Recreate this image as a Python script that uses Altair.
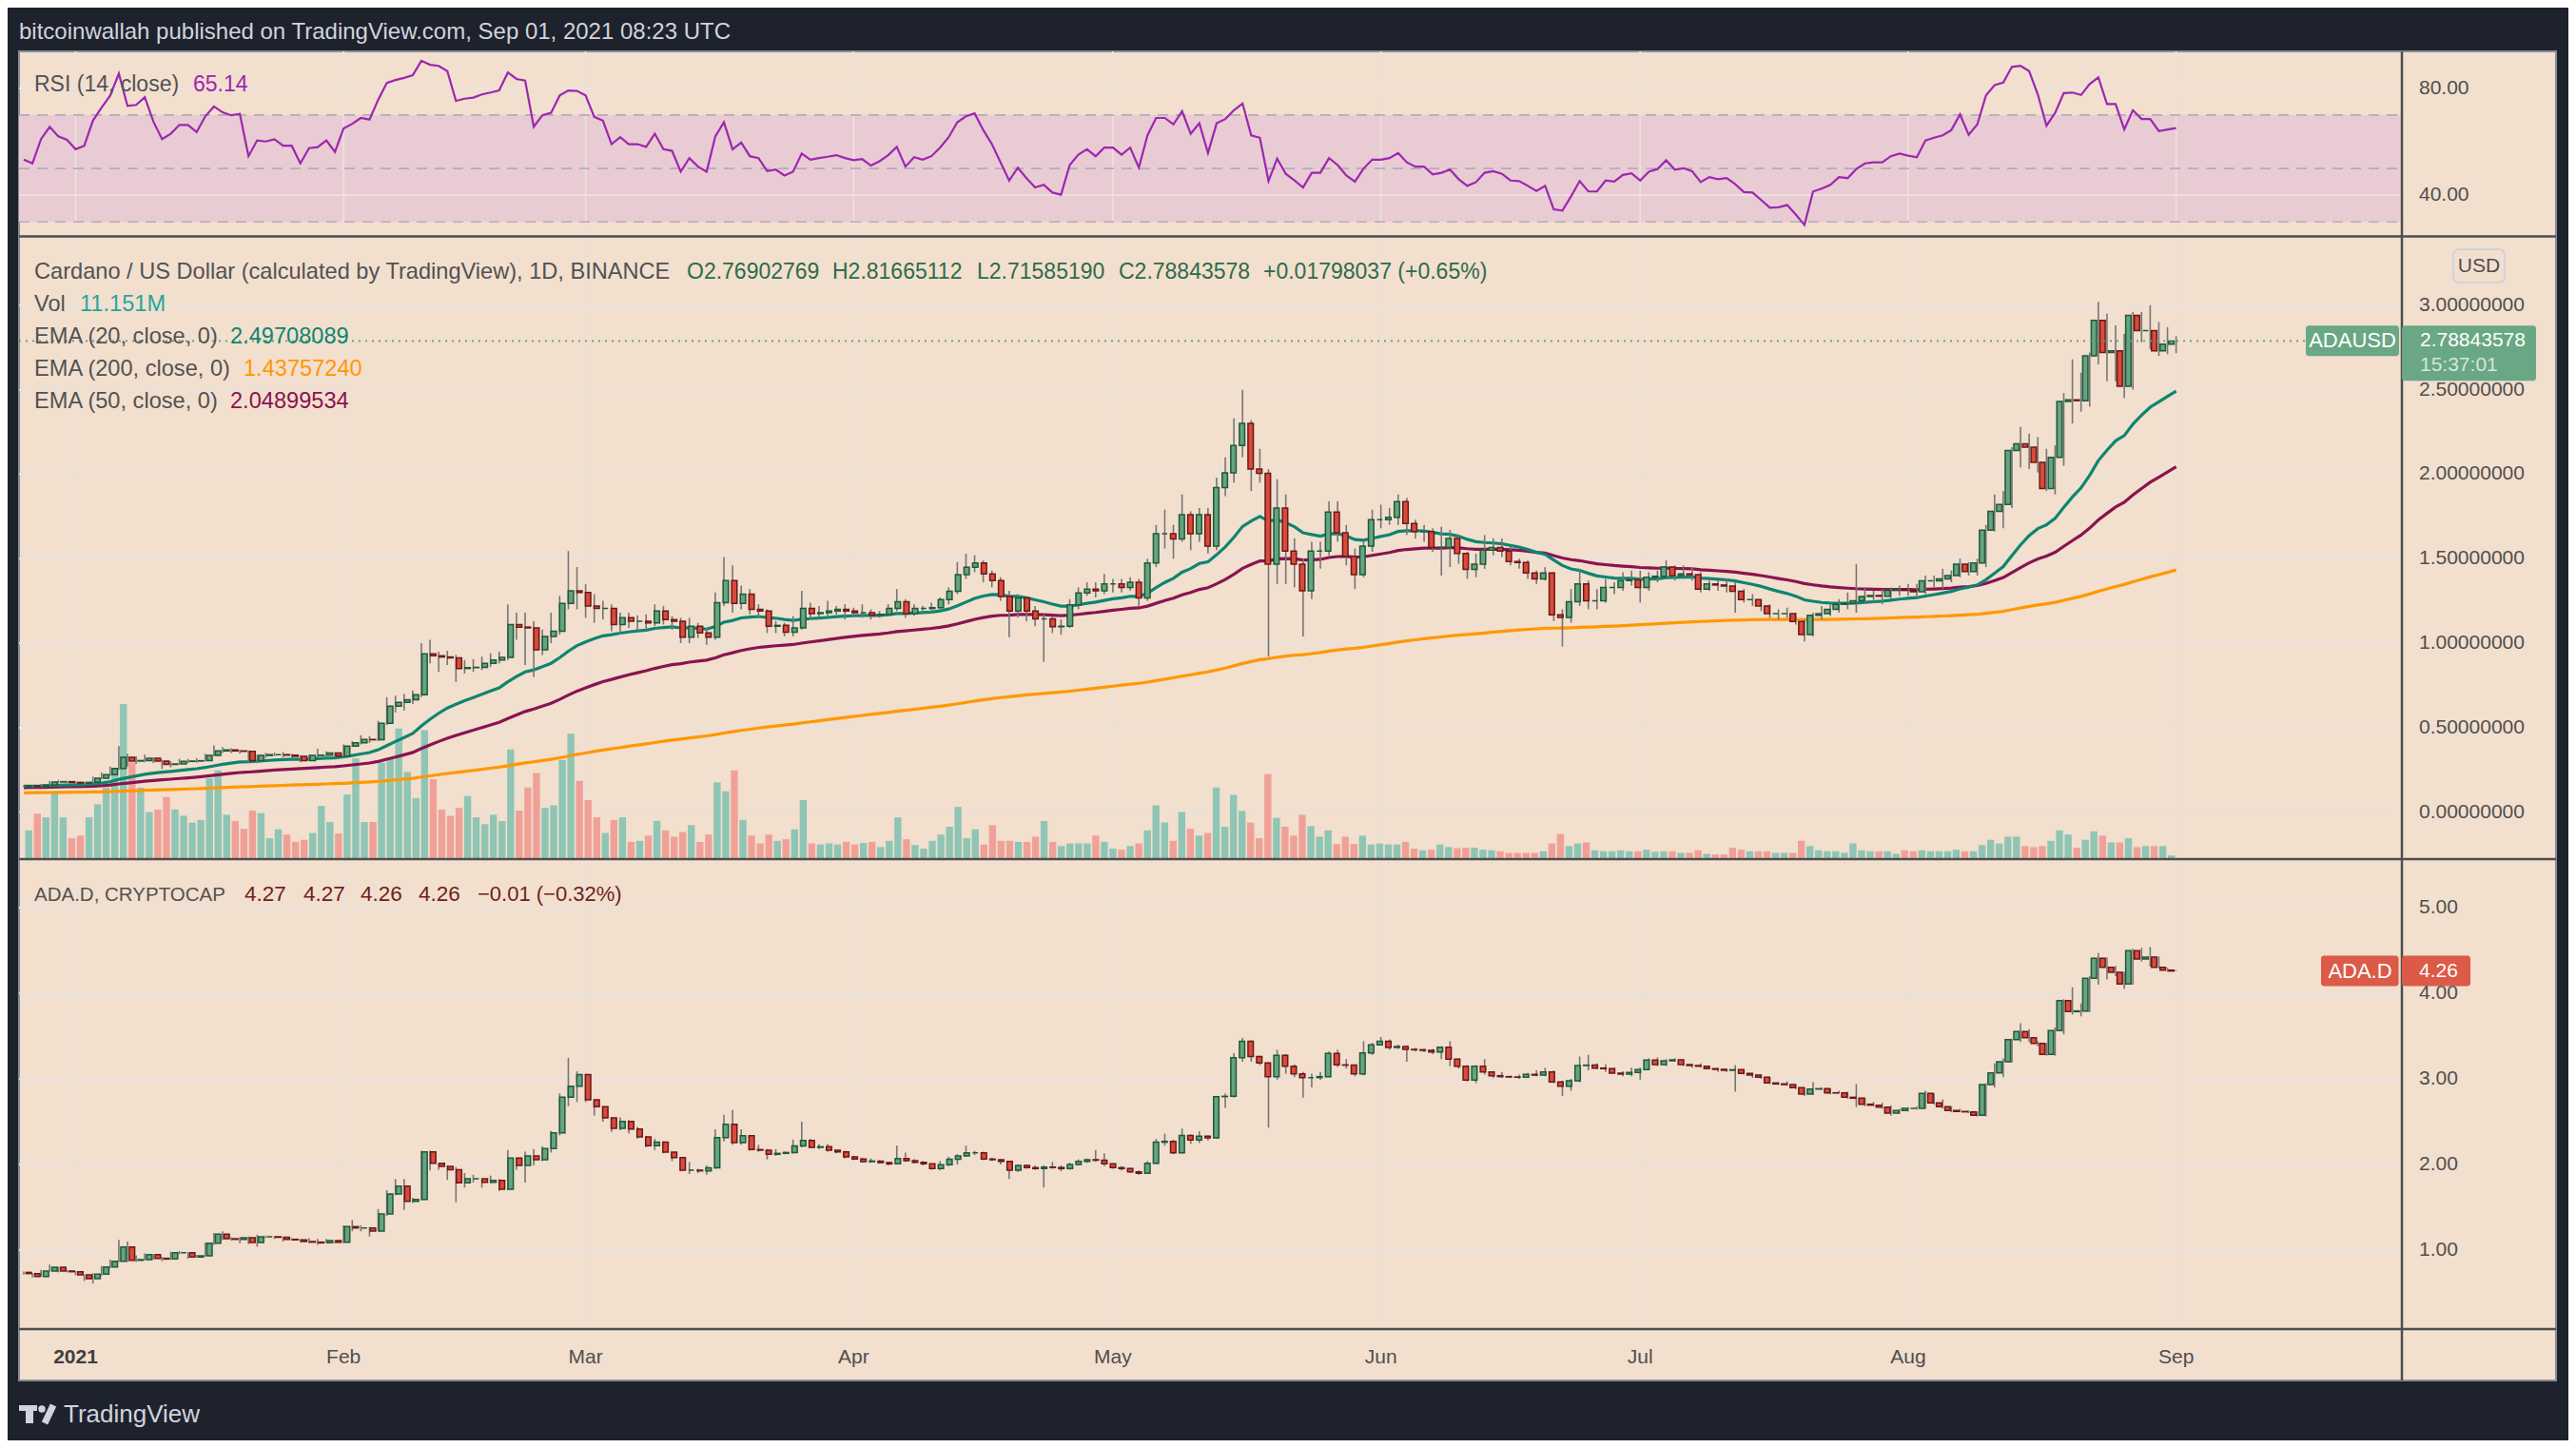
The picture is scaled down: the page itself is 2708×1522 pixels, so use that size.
import altair as alt
import pandas as pd

# ------------------------------------------------------------------ data
START = "2020-12-26"          # first daily candle shown
ada_open0 = 0.150
ada_close = [
 0.155,0.152,0.160,0.178,0.180,0.176,0.172,0.176,0.200,0.222,
 0.258,0.325,0.302,0.305,0.318,0.302,0.282,0.285,0.300,0.302,
 0.304,0.335,0.362,0.368,0.362,0.360,0.305,0.335,0.340,0.340,
 0.337,0.330,0.305,0.335,0.337,0.350,0.332,0.390,0.410,0.430,
 0.428,0.525,0.627,0.650,0.665,0.695,0.936,0.925,0.918,0.913,
 0.850,0.855,0.857,0.880,0.900,0.915,1.110,1.095,1.090,0.960,
 1.040,1.070,1.235,1.310,1.300,1.220,1.205,1.205,1.110,1.150,
 1.130,1.130,1.120,1.190,1.140,1.130,1.035,1.100,1.060,1.035,
 1.240,1.370,1.235,1.290,1.200,1.190,1.100,1.105,1.065,1.090,
 1.205,1.175,1.180,1.190,1.200,1.190,1.180,1.180,1.165,1.170,
 1.205,1.245,1.175,1.205,1.205,1.210,1.257,1.307,1.405,1.449,
 1.474,1.410,1.370,1.276,1.190,1.267,1.190,1.143,1.143,1.097,
 1.100,1.226,1.297,1.320,1.310,1.350,1.350,1.330,1.360,1.267,
 1.474,1.647,1.647,1.616,1.760,1.647,1.760,1.575,1.920,2.008,
 2.170,2.300,2.030,2.005,1.467,1.800,1.545,1.467,1.310,1.545,
 1.545,1.776,1.653,1.514,1.405,1.575,1.730,1.730,1.745,1.838,
 1.708,1.660,1.660,1.566,1.566,1.620,1.530,1.437,1.467,1.550,
 1.566,1.545,1.483,1.477,1.415,1.380,1.415,1.168,1.152,1.245,
 1.350,1.250,1.250,1.330,1.330,1.370,1.375,1.330,1.390,1.396,
 1.450,1.400,1.410,1.405,1.320,1.350,1.344,1.338,1.307,1.257,
 1.257,1.220,1.174,1.174,1.174,1.128,1.050,1.165,1.174,1.200,
 1.230,1.236,1.250,1.276,1.282,1.278,1.313,1.319,1.313,1.304,
 1.369,1.369,1.380,1.400,1.467,1.424,1.474,1.668,1.780,1.820,
 2.140,2.180,2.160,2.070,1.915,2.100,2.430,2.440,2.435,2.700,
 2.910,2.720,2.730,2.520,2.940,2.850,2.850,2.730,2.769,2.7884]
ada_high = [
 0.160,0.158,0.165,0.185,0.190,0.185,0.182,0.180,0.210,0.235,
 0.270,0.390,0.345,0.330,0.340,0.325,0.310,0.300,0.315,0.315,
 0.320,0.345,0.395,0.385,0.378,0.370,0.365,0.340,0.350,0.352,
 0.355,0.345,0.335,0.340,0.375,0.360,0.355,0.400,0.420,0.455,
 0.450,0.540,0.680,0.690,0.700,0.720,1.000,1.020,0.950,0.955,
 0.930,0.900,0.905,0.920,0.940,0.950,1.230,1.180,1.180,1.130,
 1.080,1.180,1.280,1.545,1.450,1.350,1.290,1.250,1.230,1.180,
 1.180,1.165,1.170,1.230,1.220,1.160,1.150,1.150,1.120,1.090,
 1.300,1.510,1.460,1.340,1.320,1.230,1.200,1.130,1.120,1.160,
 1.310,1.240,1.220,1.250,1.220,1.230,1.210,1.230,1.200,1.190,
 1.230,1.320,1.260,1.230,1.220,1.240,1.270,1.330,1.480,1.530,
 1.520,1.490,1.430,1.390,1.310,1.290,1.270,1.220,1.170,1.160,
 1.140,1.260,1.330,1.360,1.360,1.410,1.380,1.380,1.390,1.380,
 1.500,1.700,1.790,1.700,1.880,1.780,1.800,1.800,1.980,2.100,
 2.330,2.500,2.320,2.150,2.030,1.970,1.880,1.620,1.500,1.600,
 1.600,1.840,1.840,1.700,1.560,1.600,1.790,1.820,1.800,1.880,
 1.860,1.730,1.700,1.680,1.690,1.670,1.640,1.540,1.530,1.640,
 1.620,1.620,1.570,1.500,1.490,1.430,1.450,1.420,1.200,1.320,
 1.440,1.370,1.320,1.380,1.360,1.420,1.430,1.430,1.420,1.430,
 1.490,1.460,1.460,1.450,1.420,1.370,1.370,1.380,1.360,1.320,
 1.290,1.260,1.230,1.200,1.210,1.180,1.140,1.180,1.220,1.230,
 1.260,1.300,1.467,1.330,1.310,1.320,1.330,1.340,1.350,1.350,
 1.400,1.400,1.440,1.430,1.500,1.480,1.500,1.700,1.880,1.900,
 2.160,2.280,2.240,2.220,2.150,2.170,2.480,2.680,2.600,2.720,
 3.020,2.950,2.880,2.830,2.960,2.960,3.000,2.900,2.870,2.8167]
ada_low = [
 0.148,0.147,0.150,0.158,0.172,0.170,0.168,0.160,0.172,0.195,
 0.215,0.250,0.270,0.285,0.295,0.290,0.255,0.265,0.280,0.290,
 0.292,0.300,0.330,0.350,0.350,0.345,0.295,0.290,0.320,0.330,
 0.325,0.320,0.295,0.300,0.325,0.330,0.325,0.330,0.385,0.400,
 0.410,0.420,0.515,0.590,0.600,0.640,0.680,0.880,0.830,0.870,
 0.770,0.820,0.830,0.840,0.860,0.880,0.900,1.020,0.870,0.800,
 0.930,1.000,1.050,1.200,1.200,1.150,1.120,1.140,1.070,1.050,
 1.090,1.080,1.080,1.100,1.110,1.080,1.000,1.000,1.030,0.990,
 1.020,1.220,1.180,1.200,1.170,1.150,1.060,1.060,1.040,1.040,
 1.080,1.140,1.150,1.160,1.170,1.140,1.160,1.150,1.140,1.150,
 1.160,1.190,1.150,1.160,1.180,1.180,1.200,1.230,1.290,1.380,
 1.420,1.360,1.330,1.250,1.035,1.150,1.130,1.100,0.890,1.060,
 1.050,1.090,1.200,1.280,1.270,1.290,1.300,1.300,1.310,1.220,
 1.250,1.450,1.560,1.500,1.600,1.550,1.600,1.530,1.550,1.870,
 1.950,2.100,1.900,1.950,0.920,1.350,1.350,1.330,1.040,1.260,
 1.440,1.520,1.600,1.460,1.320,1.390,1.540,1.680,1.700,1.700,
 1.640,1.620,1.600,1.540,1.400,1.450,1.470,1.380,1.390,1.440,
 1.520,1.510,1.460,1.440,1.380,1.350,1.370,1.130,0.980,1.120,
 1.220,1.200,1.200,1.240,1.290,1.310,1.340,1.240,1.310,1.360,
 1.390,1.370,1.380,1.370,1.300,1.310,1.310,1.300,1.180,1.240,
 1.220,1.190,1.150,1.140,1.150,1.110,1.010,1.040,1.140,1.160,
 1.180,1.200,1.180,1.240,1.240,1.230,1.260,1.280,1.280,1.270,
 1.290,1.330,1.320,1.360,1.390,1.400,1.400,1.450,1.660,1.680,
 1.800,2.040,2.030,2.010,1.900,1.880,2.050,2.300,2.370,2.400,
 2.650,2.550,2.550,2.450,2.500,2.780,2.740,2.700,2.710,2.7159]
# volume (relative bar heights)
volume = [
 55,87,80,130,80,40,45,80,105,137,
 173,297,185,137,90,95,119,95,83,70,
 75,155,170,85,73,58,93,88,40,57,
 47,33,37,50,102,71,49,124,193,71,
 71,185,195,250,167,117,247,153,95,83,
 98,121,80,67,85,73,210,93,137,165,
 98,103,190,240,150,113,80,50,75,80,
 33,35,45,73,55,43,52,65,33,47,
 147,130,170,75,45,30,47,35,38,57,
 113,30,28,30,28,33,28,31,33,23,
 35,80,38,27,20,35,47,62,100,40,
 57,28,65,35,35,33,33,43,73,33,
 25,30,30,30,45,33,20,18,25,30,
 55,103,70,35,90,58,45,50,137,62,
 123,92,70,40,163,79,62,45,85,63,
 43,55,29,43,29,45,28,30,28,28,
 33,20,17,18,28,23,21,22,22,18,
 17,15,12,12,12,12,15,30,48,25,
 30,32,17,15,15,17,15,15,18,14,
 15,15,12,12,17,10,9,9,22,18,
 15,15,15,12,12,12,35,25,17,15,
 15,12,30,17,15,15,15,10,17,15,
 17,15,15,15,18,15,15,27,37,30,
 43,43,25,23,25,35,55,47,22,37,
 53,45,32,32,40,23,25,25,25,7]
rsi = [
 53.3,51.9,61.0,65.6,62.0,60.7,57.2,58.5,67.9,72.8,
 77.3,85.5,73.4,73.8,76.7,67.5,61.0,63.0,66.3,66.3,
 63.6,69.5,73.2,71.0,69.9,70.4,54.6,60.5,60.1,60.9,
 58.5,58.5,51.9,57.6,58.0,60.5,56.2,65.0,66.7,68.9,
 68.3,75.7,82.0,83.1,83.9,84.9,90.3,88.8,88.4,86.4,
 75.3,76.1,76.5,77.7,78.4,79.2,85.9,83.5,82.9,65.6,
 69.9,70.8,77.3,79.2,79.0,77.3,69.3,67.9,59.1,61.7,
 59.1,59.1,58.1,63.0,57.2,56.6,48.8,53.9,50.7,48.8,
 62.0,67.3,57.2,59.7,54.6,53.9,49.0,49.6,47.4,48.8,
 55.6,53.3,53.9,54.4,55.0,53.9,53.1,53.5,51.1,52.7,
 55.0,58.1,50.7,54.2,53.3,54.6,57.8,61.7,67.3,69.5,
 70.6,64.4,59.1,52.3,45.5,50.3,46.4,42.9,43.9,41.0,
 40.2,51.3,55.2,57.2,54.6,57.8,57.8,55.2,57.8,50.3,
 62.4,68.9,68.9,66.5,71.4,63.0,66.9,55.8,66.9,68.5,
 71.8,74.3,62.4,61.5,45.3,53.7,48.0,45.5,42.9,48.4,
 48.4,53.9,51.3,47.4,45.1,50.0,53.3,53.3,53.9,55.8,
 52.3,50.7,50.7,47.8,48.4,49.6,46.0,43.5,44.9,48.4,
 49.0,48.0,45.5,45.3,43.5,41.6,43.5,34.7,34.3,39.6,
 45.3,41.4,41.4,45.5,45.1,47.6,48.2,45.5,48.8,49.8,
 53.1,49.6,50.1,49.0,44.9,46.8,46.0,46.4,44.1,41.2,
 41.0,38.2,35.3,35.5,36.3,32.8,28.9,41.4,42.5,43.9,
 46.8,46.4,49.8,51.9,52.3,52.3,54.6,55.6,54.8,54.2,
 60.5,61.5,62.4,64.4,70.2,62.6,66.5,77.3,81.2,82.1,
 88.0,88.4,86.4,77.7,66.0,70.8,78.2,78.4,77.5,81.6,
 84.1,74.1,74.1,64.6,71.8,68.5,68.5,64.0,64.6,65.14]
dom_open0 = 0.740
dom_close = [
 0.726,0.693,0.756,0.800,0.756,0.748,0.711,0.667,0.719,0.804,
 0.870,1.037,0.881,0.889,0.948,0.904,0.896,0.970,0.970,0.919,
 0.933,1.081,1.185,1.133,1.126,1.144,1.089,1.156,1.156,1.150,
 1.126,1.120,1.100,1.093,1.085,1.111,1.093,1.274,1.259,1.259,
 1.222,1.422,1.656,1.748,1.570,1.593,2.148,2.015,1.978,1.940,
 1.785,1.833,1.833,1.793,1.815,1.711,2.074,1.989,2.100,2.056,
 2.185,2.370,2.785,2.915,3.050,2.756,2.674,2.544,2.422,2.504,
 2.415,2.322,2.220,2.260,2.144,2.080,1.933,1.933,1.926,1.960,
 2.315,2.470,2.256,2.337,2.174,2.167,2.119,2.130,2.140,2.218,
 2.281,2.200,2.207,2.167,2.148,2.089,2.063,2.033,2.040,2.022,
 2.007,2.070,2.044,2.026,2.007,1.952,1.996,2.060,2.100,2.137,
 2.137,2.063,2.056,2.037,1.933,1.990,1.963,1.952,1.970,1.965,
 1.952,2.000,2.037,2.056,2.050,2.007,1.963,1.952,1.915,1.896,
 2.015,2.260,2.270,2.137,2.340,2.285,2.330,2.310,2.793,2.796,
 3.248,3.440,3.260,3.185,3.026,3.274,3.148,3.059,3.015,3.015,
 3.026,3.296,3.163,3.160,3.059,3.304,3.396,3.440,3.367,3.378,
 3.344,3.340,3.333,3.315,3.370,3.230,3.148,2.985,3.148,3.081,
 3.037,3.026,3.022,3.019,3.052,3.044,3.081,2.963,2.915,2.978,
 3.156,3.160,3.126,3.119,3.067,3.056,3.074,3.107,3.219,3.167,
 3.211,3.222,3.167,3.156,3.148,3.119,3.111,3.100,3.107,3.063,
 3.044,3.019,2.952,2.941,2.933,2.896,2.822,2.881,2.885,2.837,
 2.835,2.785,2.774,2.704,2.693,2.670,2.600,2.630,2.656,2.656,
 2.830,2.719,2.674,2.630,2.619,2.615,2.574,2.933,3.070,3.200,
 3.459,3.552,3.481,3.415,3.285,3.563,3.915,3.785,3.793,4.174,
 4.407,4.304,4.244,4.107,4.496,4.400,4.422,4.304,4.270,4.260]
dom_high = [
 0.750,0.730,0.770,0.830,0.805,0.770,0.755,0.715,0.730,0.815,
 0.890,1.120,1.100,0.940,0.960,0.955,0.920,0.980,0.990,0.975,
 0.945,1.090,1.200,1.220,1.150,1.150,1.160,1.180,1.170,1.165,
 1.160,1.140,1.130,1.140,1.130,1.130,1.115,1.290,1.350,1.290,
 1.270,1.480,1.700,1.830,1.830,1.610,2.160,2.160,2.010,1.990,
 1.970,1.900,1.880,1.830,1.870,1.830,2.170,2.080,2.150,2.180,
 2.210,2.390,2.830,3.245,3.090,3.060,2.760,2.680,2.550,2.550,
 2.520,2.440,2.330,2.300,2.270,2.150,2.090,2.030,1.950,1.990,
 2.410,2.580,2.640,2.410,2.340,2.230,2.180,2.180,2.150,2.290,
 2.500,2.300,2.240,2.240,2.170,2.160,2.100,2.080,2.070,2.050,
 2.030,2.220,2.140,2.060,2.040,2.010,2.040,2.090,2.120,2.220,
 2.160,2.150,2.080,2.060,2.040,2.000,2.000,1.990,1.990,2.030,
 1.990,2.020,2.060,2.070,2.170,2.130,2.010,1.980,1.960,1.930,
 2.040,2.300,2.360,2.290,2.420,2.350,2.390,2.340,2.800,2.830,
 3.300,3.480,3.450,3.270,3.200,3.340,3.290,3.170,3.080,3.060,
 3.080,3.320,3.340,3.230,3.170,3.440,3.420,3.490,3.460,3.400,
 3.390,3.360,3.350,3.350,3.380,3.440,3.240,3.160,3.160,3.230,
 3.090,3.080,3.040,3.050,3.070,3.100,3.130,3.100,2.980,3.000,
 3.260,3.280,3.180,3.170,3.130,3.090,3.130,3.130,3.240,3.250,
 3.230,3.240,3.230,3.170,3.180,3.150,3.130,3.120,3.160,3.110,
 3.070,3.050,3.020,2.960,2.970,2.940,2.900,2.960,2.900,2.890,
 2.860,2.850,2.940,2.780,2.730,2.720,2.690,2.650,2.670,2.680,
 2.860,2.830,2.760,2.680,2.650,2.630,2.620,2.950,3.180,3.240,
 3.470,3.650,3.580,3.440,3.420,3.600,3.930,4.070,3.880,4.200,
 4.470,4.420,4.320,4.250,4.520,4.530,4.540,4.430,4.300,4.270]
dom_low = [
 0.715,0.680,0.690,0.750,0.740,0.740,0.705,0.640,0.610,0.700,
 0.790,0.860,0.860,0.860,0.880,0.890,0.870,0.885,0.950,0.900,
 0.910,0.925,1.060,1.120,1.110,1.080,1.070,1.040,1.140,1.130,
 1.100,1.110,1.090,1.080,1.060,1.080,1.080,1.080,1.220,1.220,
 1.160,1.220,1.400,1.640,1.470,1.550,1.580,1.930,1.940,1.820,
 1.560,1.730,1.790,1.730,1.780,1.690,1.700,1.940,1.790,1.990,
 2.040,2.140,2.340,2.680,2.730,2.730,2.570,2.500,2.380,2.400,
 2.360,2.300,2.200,2.170,2.130,2.040,1.920,1.890,1.900,1.880,
 1.950,2.270,2.230,2.230,2.160,2.150,2.060,2.100,2.120,2.130,
 2.200,2.190,2.180,2.150,2.130,2.070,2.050,2.020,2.020,2.010,
 1.990,2.000,2.030,2.010,1.990,1.940,1.930,1.980,2.000,2.090,
 2.110,2.050,2.040,2.000,1.830,1.910,1.950,1.940,1.730,1.950,
 1.920,1.940,1.990,2.020,2.030,1.980,1.950,1.930,1.900,1.880,
 1.890,2.000,2.220,2.120,2.130,2.240,2.250,2.280,2.300,2.660,
 2.780,3.200,3.200,3.160,2.430,2.990,3.060,3.020,2.780,2.900,
 2.990,3.020,3.140,3.120,3.030,3.040,3.280,3.390,3.340,3.350,
 3.200,3.320,3.310,3.290,3.230,3.150,3.120,2.970,2.950,3.050,
 3.010,3.010,3.010,3.000,3.010,3.030,3.030,2.950,2.800,2.860,
 2.960,3.100,3.110,3.080,3.060,3.030,3.030,2.990,3.100,3.150,
 3.150,3.200,3.150,3.130,3.130,3.110,3.080,3.080,2.850,3.050,
 3.010,3.000,2.940,2.930,2.920,2.880,2.800,2.810,2.870,2.820,
 2.830,2.770,2.670,2.680,2.680,2.650,2.570,2.590,2.620,2.640,
 2.650,2.700,2.650,2.610,2.610,2.600,2.560,2.560,2.900,3.020,
 3.190,3.430,3.430,3.380,3.270,3.270,3.520,3.750,3.730,3.780,
 4.100,4.160,4.200,4.050,4.100,4.370,4.310,4.290,4.250,4.260]

ema_seed = {20: 0.154, 50: 0.145, 200: 0.114}     # EMA values just before first bar
price_ticks = [0.0, 0.5, 1.0, 1.5, 2.0, 2.5, 3.0]
rsi_ticks = [80, 40]
rsi_levels = [70, 50, 30]
dom_ticks = [1, 2, 3, 4, 5]
month_labels = ["2021", "Feb", "Mar", "Apr", "May", "Jun", "Jul", "Aug", "Sep"]
last_price = 2.78843578
last_dom = 4.26

# ------------------------------------------------------------------ frames
dates = pd.date_range(START, periods=len(ada_close), freq="D")
jan1 = pd.Timestamp("2021-01-01")
day = list((dates - jan1).days)

def ema(vals, span, seed):
    a = 2.0 / (span + 1)
    out, e = [], seed
    for v in vals:
        e = a * v + (1 - a) * e
        out.append(e)
    return out

px = pd.DataFrame({
    "d": day,
    "o": [ada_open0] + ada_close[:-1], "h": ada_high, "l": ada_low, "c": ada_close,
    "v": volume, "rsi": rsi,
    "e20": ema(ada_close, 20, ema_seed[20]),
    "e50": ema(ada_close, 50, ema_seed[50]),
    "e200": ema(ada_close, 200, ema_seed[200]),
})
px["dir"] = ["up" if c >= o else "down" for o, c in zip(px.o, px.c)]
dm = pd.DataFrame({"d": day, "o": [dom_open0] + dom_close[:-1], "h": dom_high,
                   "l": dom_low, "c": dom_close})
dm["dir"] = ["up" if c >= o else "down" for o, c in zip(dm.o, dm.c)]

months = pd.date_range("2021-01-01", "2021-09-01", freq="MS")
mdf = pd.DataFrame({"d": list((months - jan1).days), "lab": month_labels})

# ------------------------------------------------------------------ layout
OFF = 8
def X(v): return v - OFF
def Y(v): return v - OFF
W, H = 2692, 1506
FONT = "Liberation Sans"
BG = "#1e222d"; BEIGE = "#f2dfce"; GRID = "#e8e2de"; SEP = "#4e4e4e"
TXT = "#525252"; AX = "#4f4f4f"
UPF, UPE, DNF, DNE, WICK = "#66a47f", "#1d5a3a", "#d84b3b", "#6c1818", "#767676"
VUP, VDN = "#8fc5b5", "#f0a197"
C20, C50, C200, CRSI = "#0d8570", "#8a1350", "#ff9800", "#9c27b0"

PLOT_L, PLOT_R = 20, 2525
xs = alt.Scale(domain=[0, 243], range=[X(79.5), X(79.5 + 9.087 * 243)], nice=False, zero=False)
ps = alt.Scale(domain=[0, 3], range=[Y(853.6), Y(853.6 - 3 * 177.6)], nice=False, zero=False)
vs = alt.Scale(domain=[0, 100], range=[Y(903), Y(903 - 100 / 1.823)], nice=False, zero=False)
rs = alt.Scale(domain=[40, 80], range=[Y(92.8 + 40 * 2.81), Y(92.8)], nice=False, zero=False)
ds = alt.Scale(domain=[1, 5], range=[Y(954 + 4 * 90), Y(954)], nice=False, zero=False)

one = pd.DataFrame({"k": [0]})
dir_fill = alt.Scale(domain=["up", "down"], range=[UPF, DNF])
dir_edge = alt.Scale(domain=["up", "down"], range=[UPE, DNE])

def box(x1, x2, y1, y2, **kw):
    return alt.Chart(one).mark_rect(**kw).encode(
        x=alt.value(X(x1)), x2=alt.value(X(x2)), y=alt.value(Y(y1)), y2=alt.value(Y(y2)))

def seg(x1, x2, y1, y2, color, w):
    return alt.Chart(one).mark_rule(color=color, strokeWidth=w).encode(
        x=alt.value(X(x1)), x2=alt.value(X(x2)), y=alt.value(Y(y1)), y2=alt.value(Y(y2)))

def hgrid(vals, scale, color=GRID, w=1.8, dash=None):
    kw = dict(color=color, strokeWidth=w)
    if dash:
        kw["strokeDash"] = dash
    return alt.Chart(pd.DataFrame({"v": vals})).mark_rule(**kw).encode(
        y=alt.Y("v:Q", scale=scale, axis=None),
        x=alt.value(X(PLOT_L)), x2=alt.value(X(PLOT_R)))

def candles(df, scale, size=5.6):
    wick = alt.Chart(df).mark_rule(color=WICK, strokeWidth=1.6).encode(
        x=alt.X("d:Q", scale=xs, axis=None),
        y=alt.Y("h:Q", scale=scale, axis=None), y2="l:Q")
    body = alt.Chart(df).mark_bar(size=size, strokeWidth=1.5, orient="vertical").encode(
        x=alt.X("d:Q", scale=xs, axis=None),
        y=alt.Y("o:Q", scale=scale, axis=None), y2="c:Q",
        color=alt.Color("dir:N", scale=dir_fill, legend=None),
        stroke=alt.Stroke("dir:N", scale=dir_edge, legend=None))
    return [wick, body]

def line(field, scale, color, w):
    return alt.Chart(px).mark_line(color=color, strokeWidth=w, interpolate="linear").encode(
        x=alt.X("d:Q", scale=xs, axis=None), y=alt.Y(f"{field}:Q", scale=scale, axis=None))

def texts(rows, align="left", weight="normal", baseline="alphabetic"):
    df = pd.DataFrame(rows, columns=["t", "x", "y", "c", "s"])
    df["x"] = df["x"] - OFF
    df["y"] = df["y"] - OFF
    return alt.Chart(df).mark_text(align=align, baseline=baseline, font=FONT,
                                   fontWeight=weight).encode(
        x=alt.X("x:Q", scale=None, axis=None), y=alt.Y("y:Q", scale=None, axis=None),
        text="t:N", color=alt.Color("c:N", scale=None, legend=None),
        size=alt.Size("s:Q", scale=None, legend=None))

layers = []
layers.append(box(20, 2687, 54, 1451, color=BEIGE, stroke="#8a8d96", strokeWidth=2))
# RSI band
layers.append(alt.Chart(pd.DataFrame({"hi": [70], "lo": [30]})).mark_rect(color="#e9cbd3").encode(
    y=alt.Y("hi:Q", scale=rs, axis=None), y2="lo:Q",
    x=alt.value(X(PLOT_L)), x2=alt.value(X(PLOT_R))))
# grids
layers.append(hgrid(rsi_ticks, rs, color="#ede3e2"))
layers.append(hgrid(price_ticks, ps))
layers.append(hgrid(dom_ticks, ds))
layers.append(alt.Chart(mdf).mark_rule(color=GRID, strokeWidth=1.8).encode(
    x=alt.X("d:Q", scale=xs, axis=None), y=alt.value(Y(54)), y2=alt.value(Y(1397))))
layers.append(hgrid(rsi_levels, rs, color="#b4abbd", w=1.6, dash=[11, 8]))
# volume
layers.append(alt.Chart(px).mark_bar(size=7.4, orient="vertical").encode(
    x=alt.X("d:Q", scale=xs, axis=None),
    y=alt.Y("v:Q", scale=vs, axis=None), y2=alt.datum(0),
    color=alt.Color("dir:N", scale=alt.Scale(domain=["up", "down"], range=[VUP, VDN]), legend=None)))
# EMAs
layers.append(line("e200", ps, C200, 3.2))
layers.append(line("e50", ps, C50, 3.2))
layers.append(line("e20", ps, C20, 3.2))
layers += candles(px, ps)
layers += candles(dm, ds)
layers.append(line("rsi", rs, CRSI, 2.2))
# panel separators
layers.append(seg(20, 2687, 248.6, 248.6, SEP, 2.5))
layers.append(seg(20, 2687, 903, 903, SEP, 2.5))
layers.append(seg(20, 2687, 1397, 1397, SEP, 2.5))
layers.append(seg(2525, 2525, 54, 1451, SEP, 2.5))
# last price dotted line
layers.append(alt.Chart(pd.DataFrame({"p": [last_price]})).mark_rule(
    color="#5a9d74", strokeWidth=1.6, strokeDash=[2, 5]).encode(
    y=alt.Y("p:Q", scale=ps, axis=None), x=alt.value(X(20)), x2=alt.value(X(2424))))

# legends / header / footer text
G = "#2e6b4a"; R = "#6e1f1f"
LS = 23.6
layers.append(texts([
    ("bitcoinwallah published on TradingView.com, Sep 01, 2021 08:23 UTC", 20, 41, "#d1d4dc", 24),
    ("RSI (14, close)", 36, 96, TXT, 23), ("65.14", 203, 96, CRSI, 23),
    ("Cardano / US Dollar (calculated by TradingView), 1D, BINANCE", 36, 293, TXT, LS),
    ("O2.76902769", 722, 293, G, 23), ("H2.81665112", 875, 293, G, 23),
    ("L2.71585190", 1027, 293, G, 23), ("C2.78843578", 1176, 293, G, 23),
    ("+0.01798037 (+0.65%)", 1328, 293, G, 23),
    ("Vol", 36, 327, TXT, LS), ("11.151M", 84, 327, "#26a69a", LS),
    ("EMA (20, close, 0)", 36, 361, TXT, LS), ("2.49708089", 242, 361, C20, LS),
    ("EMA (200, close, 0)", 36, 395, TXT, LS), ("1.43757240", 256, 395, C200, LS),
    ("EMA (50, close, 0)", 36, 429, TXT, LS), ("2.04899534", 242, 429, C50, LS),
    ("ADA.D, CRYPTOCAP", 36, 947, TXT, 20.5),
    ("4.27", 257, 947, R, 22.5), ("4.27", 319, 947, R, 22.5), ("4.26", 379, 947, R, 22.5),
    ("4.26", 440, 947, R, 22.5), ("\u22120.01 (\u22120.32%)", 502, 947, R, 22),
    ("TradingView", 67, 1495, "#d1d4dc", 26),
]))

# axis labels
def ylabels(vals, scale, fmt):
    return alt.Chart(pd.DataFrame({"v": vals})).mark_text(
        align="left", baseline="middle", font=FONT, fontSize=21, color=AX).encode(
        y=alt.Y("v:Q", scale=scale, axis=None), x=alt.value(X(2543)),
        text=alt.Text("v:Q", format=fmt))
layers.append(ylabels(price_ticks, ps, ".8f"))
layers.append(ylabels(rsi_ticks, rs, ".2f"))
layers.append(ylabels(dom_ticks, ds, ".2f"))
layers.append(alt.Chart(mdf[mdf.lab != "2021"]).mark_text(
    align="center", baseline="alphabetic", font=FONT, fontSize=21, color=AX).encode(
    x=alt.X("d:Q", scale=xs, axis=None), y=alt.value(Y(1433)), text="lab:N"))
layers.append(alt.Chart(mdf[mdf.lab == "2021"]).mark_text(
    align="center", baseline="alphabetic", font=FONT, fontSize=21, fontWeight="bold",
    color="#3f3f3f").encode(
    x=alt.X("d:Q", scale=xs, axis=None), y=alt.value(Y(1433)), text="lab:N"))

# last-value tags
LG = "#6aa784"; LR = "#db5a48"
pt = pd.DataFrame({"p": [last_price], "top": [last_price + 16 / 177.6],
                   "bot": [last_price - 16 / 177.6], "bot2": [last_price - 42 / 177.6]})
layers.append(alt.Chart(pt).mark_rect(color=LG, cornerRadius=3).encode(
    y=alt.Y("top:Q", scale=ps, axis=None), y2="bot:Q",
    x=alt.value(X(2424)), x2=alt.value(X(2522))))
layers.append(alt.Chart(pt).mark_rect(color=LG, cornerRadius=3).encode(
    y=alt.Y("top:Q", scale=ps, axis=None), y2="bot2:Q",
    x=alt.value(X(2525)), x2=alt.value(X(2666))))
layers.append(alt.Chart(pt).mark_text(align="center", baseline="middle", font=FONT,
    fontSize=22, color="white").encode(
    y=alt.Y("p:Q", scale=ps, axis=None), x=alt.value(X(2473)), text=alt.value("ADAUSD")))
layers.append(alt.Chart(pt).mark_text(align="left", baseline="middle", font=FONT,
    fontSize=21, color="white").encode(
    y=alt.Y("p:Q", scale=ps, axis=None), x=alt.value(X(2544)),
    text=alt.Text("p:Q", format=".8f")))
layers.append(alt.Chart(pt).mark_text(align="left", baseline="middle", font=FONT,
    fontSize=21, color="#d3e8da", dy=26).encode(
    y=alt.Y("p:Q", scale=ps, axis=None), x=alt.value(X(2544)), text=alt.value("15:37:01")))

dt = pd.DataFrame({"p": [last_dom], "top": [last_dom + 16 / 90], "bot": [last_dom - 16 / 90]})
layers.append(alt.Chart(dt).mark_rect(color=LR, cornerRadius=3).encode(
    y=alt.Y("top:Q", scale=ds, axis=None), y2="bot:Q",
    x=alt.value(X(2440)), x2=alt.value(X(2521.5))))
layers.append(alt.Chart(dt).mark_rect(color=LR, cornerRadius=3).encode(
    y=alt.Y("top:Q", scale=ds, axis=None), y2="bot:Q",
    x=alt.value(X(2525)), x2=alt.value(X(2597))))
layers.append(alt.Chart(dt).mark_text(align="center", baseline="middle", font=FONT,
    fontSize=22, color="white").encode(
    y=alt.Y("p:Q", scale=ds, axis=None), x=alt.value(X(2481)), text=alt.value("ADA.D")))
layers.append(alt.Chart(dt).mark_text(align="left", baseline="middle", font=FONT,
    fontSize=21, color="white").encode(
    y=alt.Y("p:Q", scale=ds, axis=None), x=alt.value(X(2543)),
    text=alt.Text("p:Q", format=".2f")))

# currency box
layers.append(box(2579, 2633, 262, 297, fillOpacity=0, stroke="#cfd3dc",
                  strokeWidth=2, cornerRadius=6))
layers.append(texts([("USD", 2606, 280, AX, 21)], align="center", baseline="middle"))

# TradingView logo
LOGO = "#d1d4dc"
layers.append(box(20, 39, 1477, 1483, color=LOGO))
layers.append(box(27, 35, 1477, 1496, color=LOGO))
layers.append(alt.Chart(one).mark_circle(color=LOGO, size=55, opacity=1).encode(
    x=alt.value(X(44)), y=alt.value(Y(1481))))
layers.append(seg(56, 47, 1477, 1496, LOGO, 7))

chart = alt.layer(*layers).resolve_scale(
    x="independent", y="independent", color="independent", stroke="independent",
    size="independent"
).properties(
    width=W, height=H, autosize=alt.AutoSizeParams(type="none"), padding=0,
    background=BG
).configure_view(strokeWidth=0)

chart.save("out.html", embed_options={"renderer": "svg", "actions": False})
